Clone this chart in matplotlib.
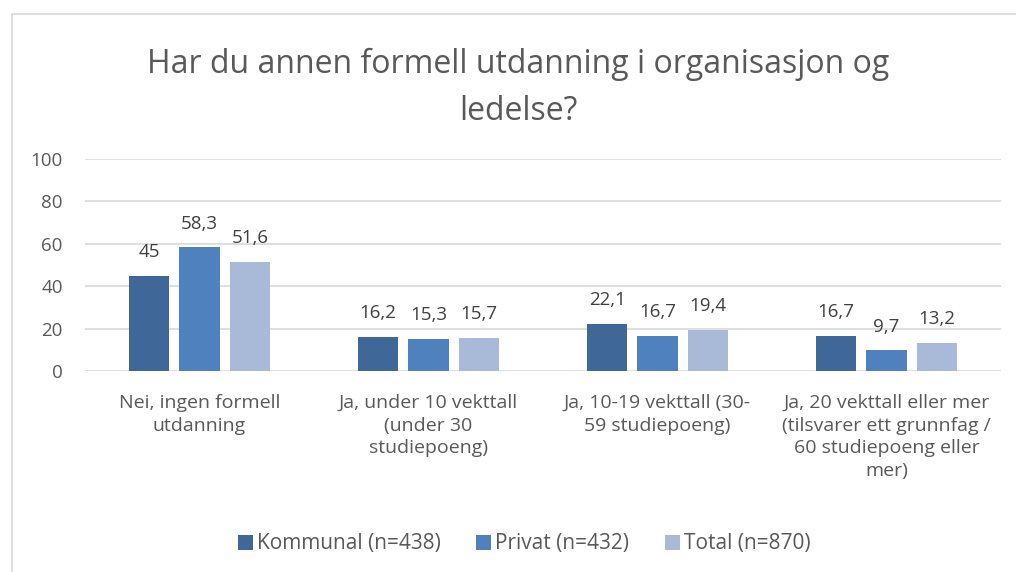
import matplotlib.pyplot as plt
import numpy as np
from matplotlib.patches import Rectangle

plt.rcParams['font.family'] = ['Open Sans', 'DejaVu Sans']

categories = ['Nei, ingen formell\nutdanning',
              'Ja, under 10 vekttall\n(under 30\nstudiepoeng)',
              'Ja, 10-19 vekttall (30-\n59 studiepoeng)',
              'Ja, 20 vekttall eller mer\n(tilsvarer ett grunnfag /\n60 studiepoeng eller\nmer)']
kommunal = [45, 16.2, 22.1, 16.7]
privat = [58.3, 15.3, 16.7, 9.7]
total = [51.6, 15.7, 19.4, 13.2]
series_names = ['Kommunal (n=438)', 'Privat (n=432)', 'Total (n=870)']
colors = ['#3F6899', '#4E81BD', '#A9B9D8']

fig = plt.figure(figsize=(10.16, 5.72), dpi=100)
ax = fig.add_axes([85 / 1016, 201 / 572, 916 / 1016, 212 / 572])

# chart border
fig.patches.append(Rectangle((12 / 1016, -0.1), 1.2, (572 - 14) / 572 + 0.1,
                             transform=fig.transFigure, fill=False,
                             edgecolor='#D9D9D9', linewidth=1.2))

x = np.arange(len(categories))
width = 0.175
offsets = [-0.22, 0, 0.22]
for vals, off, col, name in zip([kommunal, privat, total], offsets, colors, series_names):
    bars = ax.bar(x + off, vals, width, color=col, label=name, zorder=3)
    for b, v in zip(bars, vals):
        txt = ('%g' % v).replace('.', ',')
        ax.annotate(txt, (b.get_x() + b.get_width() / 2, v), xytext=(0, 13.5),
                    textcoords='offset points', ha='center', va='baseline',
                    fontsize=13.5, color='#404040')

ax.set_xlim(-0.5, 3.5)
ax.set_ylim(0, 100)
ax.set_yticks(np.arange(0, 101, 20))
ax.set_xticks(x)
ax.set_xticklabels(categories, fontsize=14, color='#595959', linespacing=1.33)
ax.tick_params(axis='y', labelsize=13.5, labelcolor='#595959', length=0, pad=16)
ax.tick_params(axis='x', length=0, pad=16.5)
ax.grid(axis='y', color='#D9D9D9', linewidth=1.2, zorder=0)
for s in ax.spines.values():
    s.set_visible(False)

fig.text(518 / 1016, 1 - 88 / 572, 'Har du annen formell utdanning i organisasjon og\nledelse?',
         ha='center', va='center', fontsize=23, color='#595959', linespacing=1.56)

fig.legend(loc='center', bbox_to_anchor=(524 / 1016, 1 - 544 / 572), ncol=3,
           frameon=False, fontsize=15, labelcolor='#595959',
           handlelength=0.72, handleheight=0.72, handletextpad=0.2, columnspacing=1.7)

fig.savefig('out.png', dpi=100)
